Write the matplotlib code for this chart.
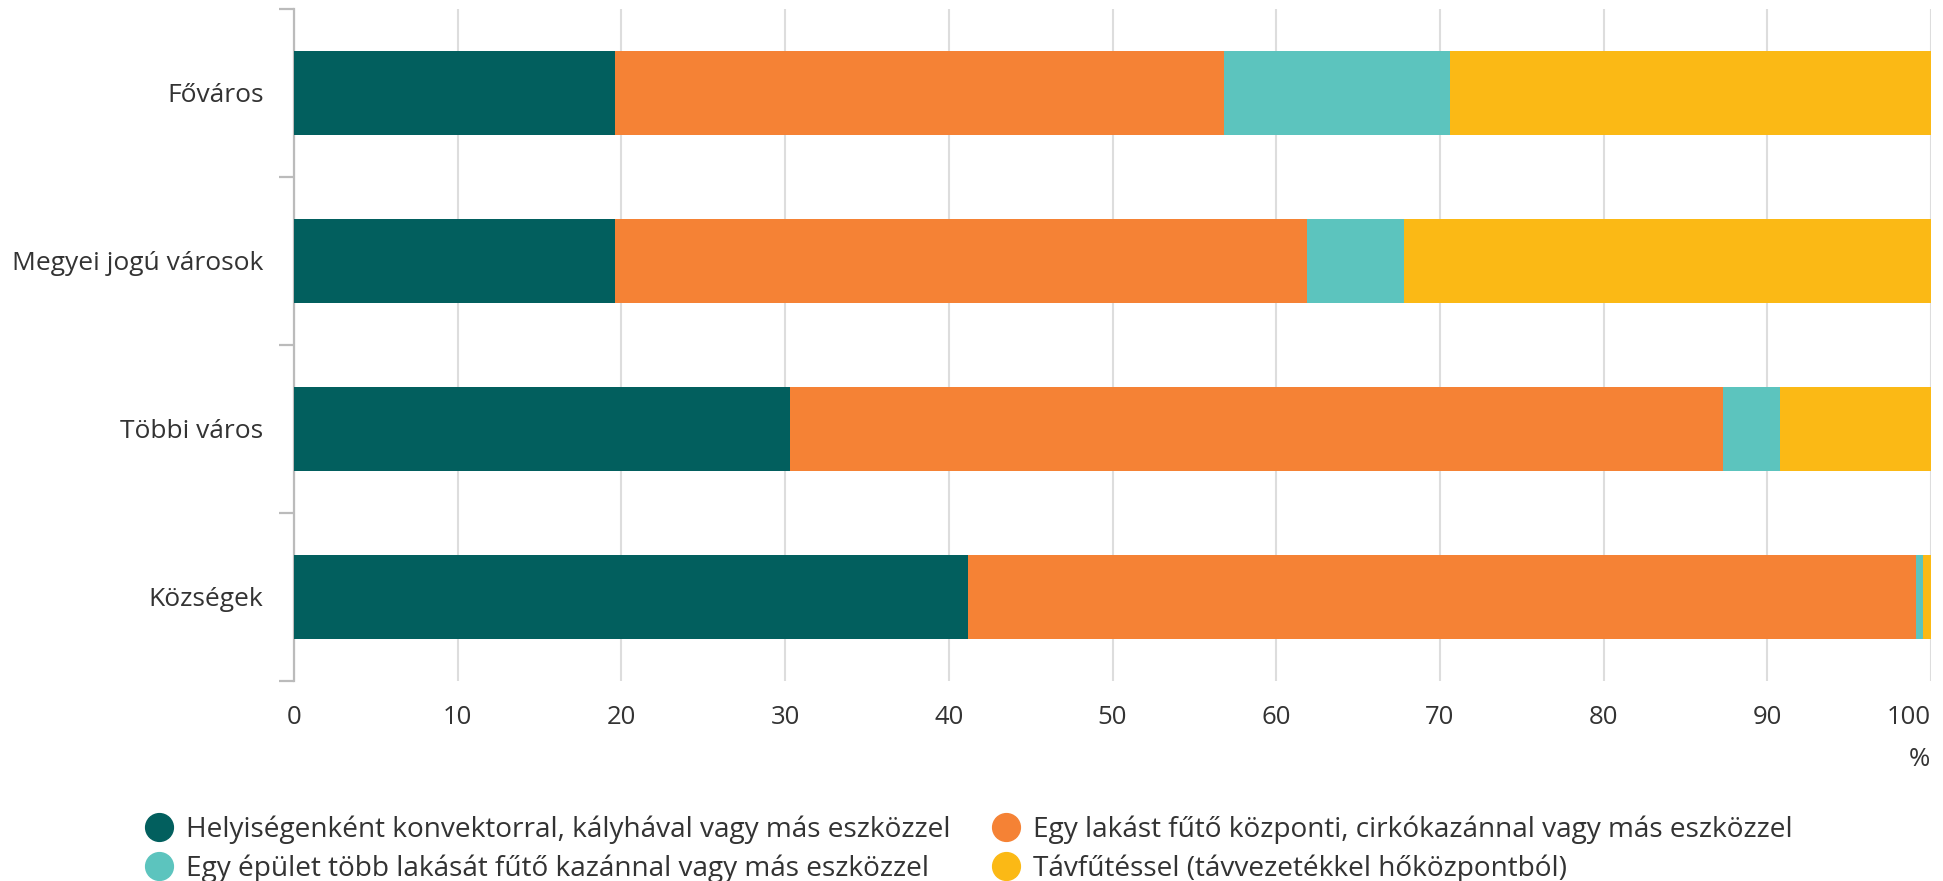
import matplotlib
matplotlib.use("Agg")
import matplotlib.pyplot as plt
from matplotlib.lines import Line2D
import numpy as np

plt.rcParams['font.family'] = ['Open Sans', 'DejaVu Sans']

categories = ["Főváros", "Megyei jogú városok", "Többi város", "Községek"]
series_names = [
    "Helyiségenként konvektorral, kályhával vagy más eszközzel",
    "Egy lakást fűtő központi, cirkókazánnal vagy más eszközzel",
    "Egy épület több lakását fűtő kazánnal vagy más eszközzel",
    "Távfűtéssel (távvezetékkel hőközpontból)",
]
helyisegenkent = [19.6, 19.6, 30.3, 41.2]
egy_lakast = [37.2, 42.3, 57.0, 57.9]
egy_epulet = [13.8, 5.9, 3.5, 0.4]
tavfutes = [29.4, 32.2, 9.2, 0.5]
xticks = [0, 10, 20, 30, 40, 50, 60, 70, 80, 90, 100]

colors = ["#025F5E", "#F58235", "#5CC4BE", "#FBB915"]
text_color = "#333333"

W, H = 1943, 881
fig = plt.figure(figsize=(W / 100, H / 100), dpi=100)
ax = fig.add_axes([294 / W, 1 - 681 / H, (1931 - 294) / W, (681 - 9) / H])

y = np.arange(len(categories))
left = np.zeros(len(categories))
for vals, col, name in zip([helyisegenkent, egy_lakast, egy_epulet, tavfutes], colors, series_names):
    ax.barh(y, vals, left=left, height=0.5, color=col, label=name, zorder=3)
    left += np.array(vals)

ax.set_xlim(0, 100)
ax.set_ylim(len(categories) - 0.5, -0.5)
ax.set_xticks(xticks)
ax.set_xticklabels([str(t) for t in xticks], fontsize=18.5, color=text_color)
ax.tick_params(axis='x', length=0, pad=17)
lbls = ax.get_xticklabels()
lbls[-1].set_horizontalalignment('right')
ax.grid(axis='x', color='#dddddd', linewidth=1.5, zorder=0)

ax.set_yticks(np.arange(len(categories) + 1) - 0.5)
ax.set_yticklabels([])
ax.set_yticks(y, minor=True)
ax.set_yticklabels(categories, minor=True, fontsize=19, color=text_color)
ax.tick_params(axis='y', which='major', length=11, width=1.6, color='#bbbbbb')
ax.tick_params(axis='y', which='minor', length=0, pad=22)

for s in ['top', 'right', 'bottom']:
    ax.spines[s].set_visible(False)
ax.spines['left'].set_color('#bbbbbb')
ax.spines['left'].set_linewidth(1.6)

fig.text(1930 / W, 1 - 760 / H, "%", ha='right', va='center', fontsize=18.5, color=text_color)

order = [0, 2, 1, 3]
handles = [Line2D([0], [0], marker='o', linestyle='none', markersize=20,
                  markerfacecolor=colors[i], markeredgecolor=colors[i]) for i in order]
labels = [series_names[i] for i in order]
leg = fig.legend(handles, labels, loc='upper left',
                 bbox_to_anchor=(145 / W, 1 - 815 / H), ncol=2, frameon=False,
                 fontsize=20.2, labelcolor=text_color, handletextpad=0.45,
                 columnspacing=1.5, labelspacing=0.38, borderaxespad=0,
                 borderpad=0, handlelength=1.0)

fig.savefig("out.png", dpi=100)
